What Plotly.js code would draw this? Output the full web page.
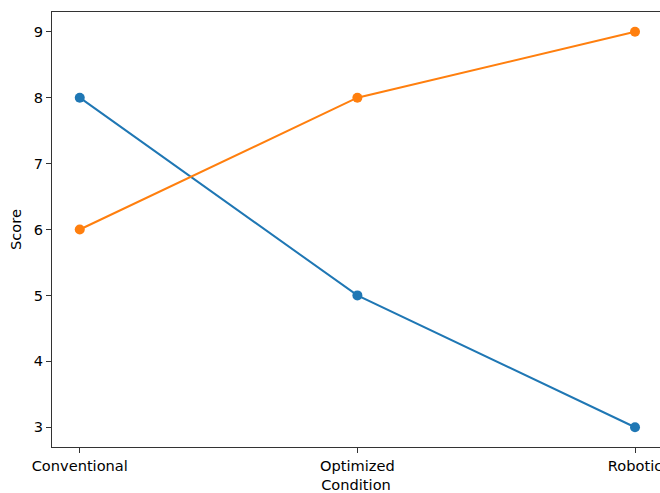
<!DOCTYPE html>
<html><head><meta charset="utf-8">
<script src="https://cdn.plot.ly/plotly-3.0.1.min.js"></script>
<style>html,body{margin:0;padding:0;background:#fff}#chart{width:660px;height:493px}</style>
</head><body><div id="chart"></div>
<script>
const conditions = ["Conventional", "Optimized", "Robotic"];
const seriesA = [8, 5, 3];
const seriesB = [6, 8, 9];
const yTicks = [3, 4, 5, 6, 7, 8, 9];

const font = {family: "DejaVu Sans", size: 14.6, color: "#000"};
const traces = [
  {x: [0,1,2], y: seriesA, mode: "lines+markers", name: "Series A", cliponaxis: false,
   line: {color: "#1f77b4", width: 2}, marker: {color: "#1f77b4", size: 10}},
  {x: [0,1,2], y: seriesB, mode: "lines+markers", name: "Series B", cliponaxis: false,
   line: {color: "#ff7f0e", width: 2}, marker: {color: "#ff7f0e", size: 10}}
];
const layout = {
  width: 660, height: 493,
  margin: {l: 52, r: 0, t: 12, b: 46},
  showlegend: false,
  paper_bgcolor: "#fff", plot_bgcolor: "#fff",
  font: font,
  xaxis: {
    range: [-0.1, 2.09], tickvals: [0,1,2], ticktext: conditions,
    ticklabeloverflow: "allow",
    showgrid: false, zeroline: false, showline: true, mirror: true,
    linecolor: "#333", linewidth: 1.2, ticks: "outside", ticklen: 5, tickwidth: 1.2, tickcolor: "#333",
    tickfont: font, title: {text: "Condition", font: font, standoff: 7}
  },
  yaxis: {
    range: [2.7, 9.3], tickvals: yTicks,
    showgrid: false, zeroline: false, showline: true, mirror: false,
    linecolor: "#333", linewidth: 1.2, ticks: "outside", ticklen: 5, tickwidth: 1.2, tickcolor: "#333",
    tickfont: font, title: {text: "Score", font: font, standoff: 8}
  }
};
Plotly.newPlot("chart", traces, layout, {displayModeBar: false});
</script></body></html>
